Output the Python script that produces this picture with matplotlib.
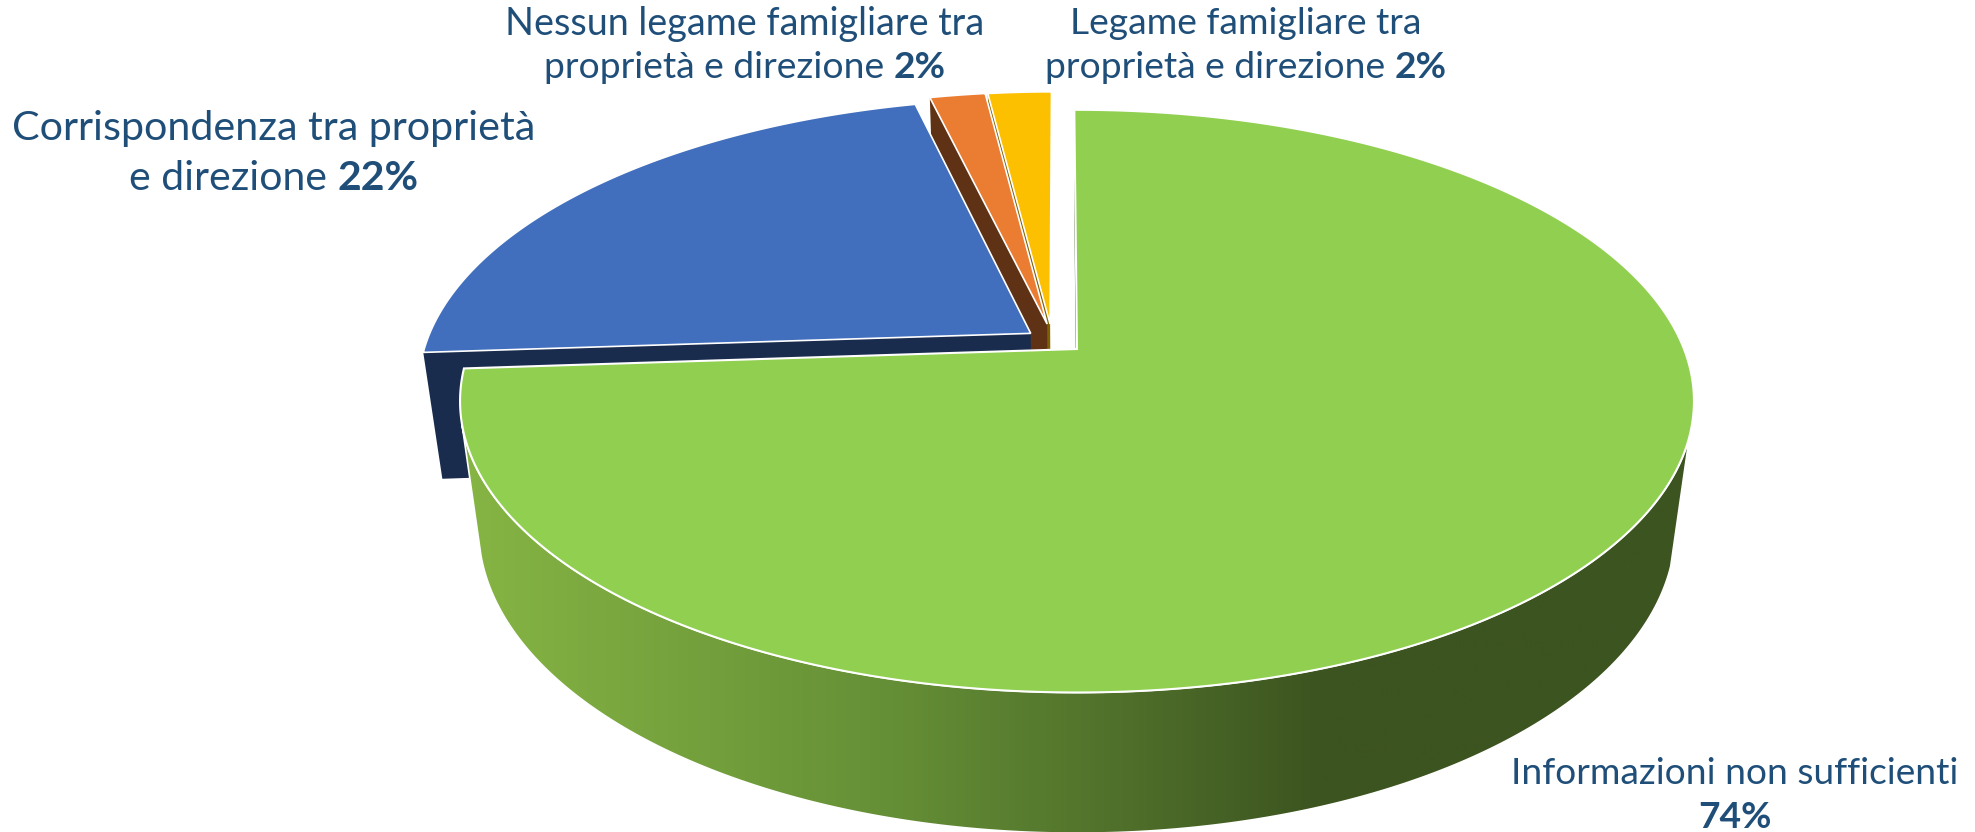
import numpy as np
import matplotlib
matplotlib.use('Agg')
import matplotlib.pyplot as plt
from matplotlib.patches import Polygon
from matplotlib.colors import LinearSegmentedColormap

plt.rcParams['font.family'] = ['Lato', 'DejaVu Sans']

# slice values in percent, clockwise from the top (labels show them rounded)
names = ['Informazioni non sufficienti', 'Corrispondenza tra proprietà e direzione',
         'Nessun legame famigliare tra proprietà e direzione', 'Legame famigliare tra proprietà e direzione']
values = [74, 22.25, 1.75, 2]
top_colors = ['#91CF50', '#416FBD', '#EB7D32', '#FDC000']
wall_colors = ['#3C5420', '#1A2C4E', '#5F3216', '#7F6000']
# how far each slice is pulled out, in pie radii (u, v)
explode = [(0.0, 0.0), (-0.077, 0.056), (-0.05, 0.09), (-0.045, 0.09)]

# perspective set up, in pixels
W, H = 1975, 832
CX, CY = 1077, 349
A, B, D = 607, 282, 130
K, M = 0.179, 0.03
START = 90.3
TEXT_COLOR = '#1F4E79'


def project(u, v, h=0.0):
    # circle coords (u, v) and depth h to pixels
    u, v = np.asarray(u, float), np.asarray(v, float)
    w = 1 + K * v + M * h
    return CX + A * u / w, CY + (-B * v + D * h) / w


def slice_angles():
    stops = START - np.cumsum([0] + values) * 3.6
    return list(zip(stops[:-1], stops[1:]))


def top_face(t0, t1, off):
    t = np.radians(np.linspace(t0, t1, 300))
    u = np.r_[off[0], off[0] + np.cos(t)]
    v = np.r_[off[1], off[1] + np.sin(t)]
    return np.column_stack(project(u, v))


def radial_wall(t, off):
    # side wall along one radial cut of a slice
    c, s = np.cos(np.radians(t)), np.sin(np.radians(t))
    u = np.array([off[0], off[0] + c, off[0] + c, off[0]])
    v = np.array([off[1], off[1] + s, off[1] + s, off[1]])
    h = np.array([0, 0, 1, 1])
    return np.column_stack(project(u, v, h))


def put_line(ax, fig, x, y, runs, size):
    # one centred line made of normal and bold runs
    r = fig.canvas.get_renderer()
    items = [ax.text(0, y, s, fontsize=size, fontweight=wt, color=TEXT_COLOR,
                     ha='left', va='center_baseline') for s, wt in runs]
    widths = [it.get_window_extent(r).width for it in items]
    left = x - sum(widths) / 2
    for it, wd in zip(items, widths):
        it.set_x(left)
        left += wd


fig = plt.figure(figsize=(W / 100, H / 100), dpi=100)
ax = fig.add_axes([0, 0, 1, 1])

angles = slice_angles()

# back to front: yellow, orange, blue, green
for i in [3, 2, 1]:
    t0, t1 = angles[i]
    ax.add_patch(Polygon(radial_wall(t0, explode[i]), closed=True,
                         fc=wall_colors[i], ec='none', zorder=2 + (3 - i)))
    ax.add_patch(Polygon(top_face(t0, t1, explode[i]), closed=True, fc=top_colors[i],
                         ec='white', lw=1.2, zorder=2 + (3 - i) + 0.5))

# thin wall on the left cut of the big slice
ax.add_patch(Polygon(radial_wall(angles[0][0], explode[0]), closed=True,
                     fc=wall_colors[0], ec='none', zorder=1))

# outer wall of the big slice, shaded left to right
t = np.radians(np.linspace(195, 343, 300))
top_x, top_y = project(np.cos(t), np.sin(t))
bot_x, bot_y = project(np.cos(t), np.sin(t), 1.0)
outline = np.column_stack([np.r_[top_x, bot_x[::-1]], np.r_[top_y, bot_y[::-1]]])
wall = Polygon(outline, closed=True, fc='none', ec='white', lw=1.2, zorder=6.5)
ax.add_patch(wall)
shade = LinearSegmentedColormap.from_list(
    'shade', [(0.0, '#86B544'), (0.35, '#658F36'), (0.7, '#3C5420'), (1.0, '#3C5420')])
im = ax.imshow(np.linspace(0, 1, 512)[None, :], cmap=shade, aspect='auto',
               extent=[outline[:, 0].min(), outline[:, 0].max(), outline[:, 1].max(), outline[:, 1].min()],
               zorder=6)
clip = Polygon(outline, closed=True, transform=ax.transData)
im.set_clip_path(clip)

t0, t1 = angles[0]
ax.add_patch(Polygon(top_face(t0, t1, explode[0]), closed=True, fc=top_colors[0],
                     ec='white', lw=1.5, zorder=7))

ax.set_xlim(0, W)
ax.set_ylim(H, 0)
ax.axis('off')
fig.canvas.draw()

put_line(ax, fig, 745, 21, [('Nessun legame famigliare tra', 'normal')], 27.2)
put_line(ax, fig, 745, 64, [('proprietà e direzione ', 'normal'), ('%.0f%%' % values[2], 'bold')], 26.8)
put_line(ax, fig, 1246, 21, [('Legame famigliare tra', 'normal')], 26.8)
put_line(ax, fig, 1246, 64, [('proprietà e direzione ', 'normal'), ('%.0f%%' % values[3], 'bold')], 26.8)
put_line(ax, fig, 274, 125, [('Corrispondenza tra proprietà', 'normal')], 29.7)
put_line(ax, fig, 274, 175, [('e direzione ', 'normal'), ('%.0f%%' % values[1], 'bold')], 29.5)
put_line(ax, fig, 1735, 771, [('Informazioni non sufficienti', 'normal')], 26.7)
put_line(ax, fig, 1735, 814, [('%.0f%%' % values[0], 'bold')], 26.7)

fig.savefig('out.png', dpi=100)
